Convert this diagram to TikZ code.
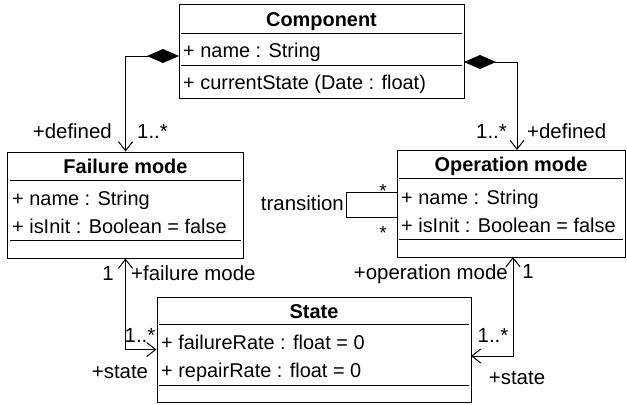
\documentclass[tikz,border=0pt]{standalone}
\usepackage{fontspec}
\setmainfont{Liberation Sans}
\usetikzlibrary{arrows.meta}

\tikzset{
  classbox/.style={draw, line width=1bp, inner sep=0pt},
  sepline/.style={line width=1bp},
  title/.style={font=\fontsize{20}{22}\selectfont\bfseries, inner sep=0pt, text height=14bp, text depth=0pt},
  attr/.style={font=\fontsize{20}{22}\selectfont, inner sep=0pt, text height=14bp, text depth=0pt, anchor=west},
  lbl/.style={font=\fontsize{20.5}{22}\selectfont, inner sep=0pt, text height=14bp, text depth=0pt},
  star/.style={font=\fontsize{19}{22}\selectfont, inner sep=0pt, anchor=base},
  compo/.style={line width=1bp, {Diamond[length=32bp,width=14bp]}-{Straight Barb[length=9bp,width=14bp]}},
  nav/.style={line width=1bp, {Straight Barb[length=9bp,width=14bp]}-{Straight Barb[length=9bp,width=14bp]}},
}

\begin{document}
\begin{tikzpicture}[x=1bp, y=-1bp]
				\useasboundingbox (0,0) rectangle (627,404);
				
				% Component class
				\node[classbox, minimum width=285bp, minimum height=94bp] (comp) at (321.5,51) {};
				\draw[sepline] (181,33) -- (462,33);
				\draw[sepline] (181,65) -- (462,65);
				\node[title] (compTitle) at (321.5,19) {Component};
				\node[attr] (compName) at (183,50) {+ name : String};
				\node[attr] (compState) at (183,82) {+ currentState (Date : float)};
				
				% Failure mode class
				\node[classbox, minimum width=235bp, minimum height=106bp] (fail) at (125.5,205) {};
				\draw[sepline] (10,180) -- (241,180);
				\draw[sepline] (10,240) -- (241,240);
				\node[title] (failTitle) at (125.5,166) {Failure mode};
				\node[attr] (failName) at (12,198) {+ name : String};
				\node[attr] (failInit) at (12,226) {+ isInit : Boolean = false};
				
				% Operation mode class
				\node[classbox, minimum width=228bp, minimum height=107bp] (op) at (511,203.5) {};
				\draw[sepline] (399,178) -- (623,178);
				\draw[sepline] (399,239) -- (623,239);
				\node[title] (opTitle) at (511,164) {Operation mode};
				\node[attr] (opName) at (401,197) {+ name : String};
				\node[attr] (opInit) at (401,225) {+ isInit : Boolean = false};
				
				% State class
				\node[classbox, minimum width=314bp, minimum height=105bp] (state) at (314,349.5) {};
				\draw[sepline] (159,324) -- (469,324);
				\draw[sepline] (159,385) -- (469,385);
				\node[title] (stateTitle) at (314,311) {State};
				\node[attr] (stateFail) at (161,342) {+ failureRate : float = 0};
				\node[attr] (stateRep) at (161,370) {+ repairRate : float = 0};
				
				% Ends of the connectors
				\coordinate (compL) at (179,56);
				\coordinate (compR) at (464,62);
				\coordinate (opTop) at (517,150);
				\coordinate (opBot) at (513,257);
				\coordinate (stateR) at (471,356);
				\coordinate (loopA) at (397,192);
				\coordinate (loopB) at (397,217);
				
				% Compositions
				\draw[compo] (compL) -| (fail.north);
				\draw[compo] (compR) -| (opTop);
				
				% Associations to State
				\draw[nav] (fail.south) |- (state.west);
				\draw[nav] (opBot) |- (stateR);
				
				% Transition loop
				\draw[sepline] (loopA) -- ++(-51,0) |- (loopB);
				
				% Role names and multiplicities
				\node[lbl, anchor=east] (defL) at (112,131) {+defined};
				\node[lbl, anchor=west] (multL) at (137,131) {1..*};
				\node[lbl, anchor=east] (multR) at (507,131) {1..*};
				\node[lbl, anchor=west] (defR) at (527,131) {+defined};
				\node[lbl, anchor=east] (trans) at (344,203) {transition};
				\node[star] (starA) at (383,197) {*};
				\node[star] (starB) at (383,239.5) {*};
				\node[lbl] (oneL) at (108,273) {1};
				\node[lbl, anchor=west] (failRole) at (131,273) {+failure mode};
				\node[lbl] (multSL) at (140,335) {1..*};
				\node[lbl] (stateRoleL) at (120,371) {+state};
				\node[lbl, anchor=east] (opRole) at (508,272) {+operation mode};
				\node[lbl] (oneR) at (528,271) {1};
				\node[lbl] (multSR) at (493,335) {1..*};
				\node[lbl] (stateRoleR) at (517,377) {+state};
\end{tikzpicture}
\end{document}
